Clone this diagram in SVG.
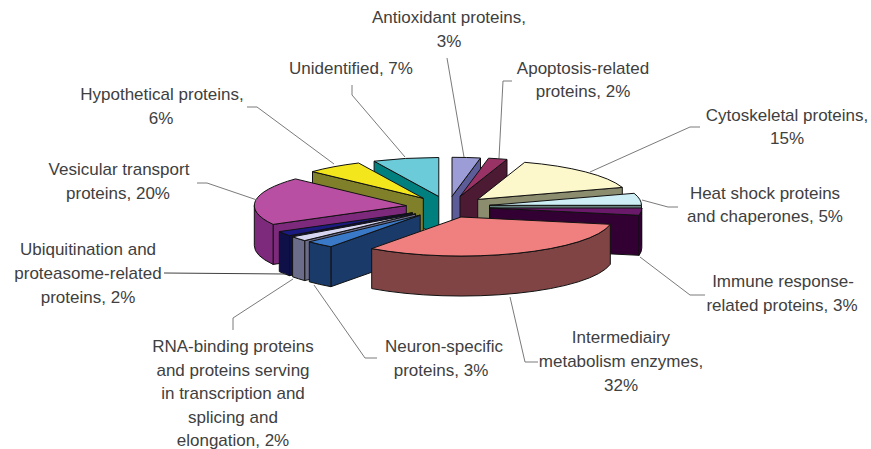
<svg xmlns="http://www.w3.org/2000/svg" width="871" height="449" viewBox="0 0 871 449">
<style>
  .f { stroke: #111; stroke-width: 1; stroke-linejoin: round; }
  .lbl { font-family: "Liberation Sans", Arial, sans-serif; font-size: 17px; fill: #404040; text-anchor: middle; }
  .ld { fill: none; stroke: #7a7a7a; stroke-width: 1; }
</style>
<rect width="871" height="449" fill="#ffffff"/>

<g id="antioxidant">
  <polygon class="f" fill="#5c5c99" points="452,196.3 480.5,158 480.5,198 452,236.3"/>
  <path class="f" fill="#9c9cd6" d="M452,196.3 L452,157.3 A152,39 0 0,1 480.5,158 Z"/>
  <text class="lbl" x="449" y="23">Antioxidant proteins,</text>
  <text class="lbl" x="449" y="47">3%</text>
</g>
<g id="unidentified">
  <polygon class="f" fill="#007f7f" points="438.8,196.5 374.1,161.2 374.1,201.2 438.8,236.5"/>
  <path class="f" fill="#6ccbd8" d="M438.8,196.5 L374.1,161.2 A152,39 0 0,1 438.8,157.5 Z"/>
  <text class="lbl" x="351" y="74">Unidentified, 7%</text>
</g>
<g id="apoptosis">
  <polygon class="f" fill="#4c1a33" points="460,196.5 507,159.4 507,199.4 460,236.5"/>
  <path class="f" fill="#993366" d="M460,196.5 L488.5,158.2 A152,39 0 0,1 507,159.4 Z"/>
  <text class="lbl" x="583" y="74">Apoptosis-related</text>
  <text class="lbl" x="583" y="97">proteins, 2%</text>
</g>
<g id="hypothetical">
  <polygon class="f" fill="#80802a" points="423.3,198.3 312.5,171.6 312.5,211.6 423.3,238.3"/>
  <path class="f" fill="#f4e61c" d="M423.3,198.3 L312.5,171.6 A152,39 0 0,1 358.6,163 Z"/>
  <text class="lbl" x="162" y="100">Hypothetical proteins,</text>
  <text class="lbl" x="161" y="124">6%</text>
</g>
<g id="cytoskeletal">
  <polygon class="f" fill="#8c8c6e" points="477.7,199.4 622.3,187.4 622.3,227.4 477.7,239.4"/>
  <path class="f" fill="#fcf8cc" d="M477.7,199.4 L524.7,162.3 A152,39 0 0,1 622.3,187.4 Z"/>
  <text class="lbl" x="787" y="121">Cytoskeletal proteins,</text>
  <text class="lbl" x="787" y="144">15%</text>
</g>
<g id="heat-shock">
  <polygon class="f" fill="#668080" points="489.5,205.3 641.5,205.3 641.5,245.3 489.5,245.3"/>
  <path class="f" fill="#cceef4" d="M489.5,205.3 L634.1,193.3 A152,39 0 0,1 641.5,205.3 Z"/>
  <text class="lbl" x="765" y="199">Heat shock proteins</text>
  <text class="lbl" x="765" y="222">and chaperones, 5%</text>
</g>
<g id="vesicular">
  <polygon class="f" fill="#7d2a7d" points="406.3,205.6 273.1,224.4 273.1,264.4 406.3,245.6"/>
  <path class="f" fill="#7d2a7d" d="M273.1,224.4 A152,39 0 0,1 254.3,205.6 L254.3,245.6 A152,39 0 0,0 273.1,264.4 Z"/>
  <path class="f" fill="#b94fa2" d="M406.3,205.6 L273.1,224.4 A152,39 0 0,1 295.5,178.9 Z"/>
  <text class="lbl" x="119" y="175">Vesicular transport</text>
  <text class="lbl" x="118" y="199">proteins, 20%</text>
</g>
<g id="immune">
  <polygon class="f" fill="#330033" points="489.8,208 639.1,215.3 639.1,255.3 489.8,248"/>
  <path class="f" fill="#330033" d="M641.8,208 A152,39 0 0,1 639.1,215.3 L639.1,255.3 A152,39 0 0,0 641.8,248 Z"/>
  <path class="f" fill="#6b1a6b" d="M489.8,208 L641.8,208 A152,39 0 0,1 639.1,215.3 Z"/>
  <text class="lbl" x="783" y="287">Immune response-</text>
  <text class="lbl" x="782" y="311">related proteins, 3%</text>
</g>
<g id="ubiquitination">
  <polygon class="f" fill="#101048" points="412.5,212.8 289.5,235.7 289.5,275.7 412.5,252.8"/>
  <path class="f" fill="#101048" d="M289.5,235.7 A152,39 0 0,1 279.3,231.6 L279.3,271.6 A152,39 0 0,0 289.5,275.7 Z"/>
  <path class="f" fill="#1a1a80" d="M412.5,212.8 L289.5,235.7 A152,39 0 0,1 279.3,231.6 Z"/>
  <text class="lbl" x="88" y="255">Ubiquitination and</text>
  <text class="lbl" x="88" y="279">proteasome-related</text>
  <text class="lbl" x="88" y="303">proteins, 2%</text>
</g>
<g id="rna-binding">
  <polygon class="f" fill="#6b6b8a" points="415.6,213.9 304.7,240.6 304.7,280.6 415.6,253.9"/>
  <path class="f" fill="#6b6b8a" d="M304.7,240.6 A152,39 0 0,1 292.6,236.8 L292.6,276.8 A152,39 0 0,0 304.7,280.6 Z"/>
  <path class="f" fill="#d6d6f2" d="M415.6,213.9 L304.7,240.6 A152,39 0 0,1 292.6,236.8 Z"/>
  <text class="lbl" x="233" y="352">RNA-binding proteins</text>
  <text class="lbl" x="233" y="375.5">and proteins serving</text>
  <text class="lbl" x="233" y="399">in transcription and</text>
  <text class="lbl" x="233" y="422.5">splicing and</text>
  <text class="lbl" x="233" y="446">elongation, 2%</text>
</g>
<g id="neuron-specific">
  <polygon class="f" fill="#1a3a6a" points="420.2,215.1 330.9,246.7 330.9,286.7 420.2,255.1"/>
  <path class="f" fill="#1a3a6a" d="M330.9,246.7 A152,39 0 0,1 309.3,241.8 L309.3,281.8 A152,39 0 0,0 330.9,286.7 Z"/>
  <path class="f" fill="#3a78c8" d="M420.2,215.1 L330.9,246.7 A152,39 0 0,1 309.3,241.8 Z"/>
  <text class="lbl" x="444" y="352">Neuron-specific</text>
  <text class="lbl" x="441" y="376">proteins, 3%</text>
</g>
<g id="intermediary">
  <path class="f" fill="#804444" d="M610.3,224.3 A152,39 0 0,1 371.7,248.6 L371.7,288.6 A152,39 0 0,0 610.3,264.3 Z"/>
  <path class="f" fill="#f08080" d="M461,217 L610.3,224.3 A152,39 0 0,1 371.7,248.6 Z"/>
  <text class="lbl" x="621" y="343">Intermediairy</text>
  <text class="lbl" x="621" y="367">metabolism enzymes,</text>
  <text class="lbl" x="621" y="391">32%</text>
</g>

<g id="connectors">
  <polyline class="ld" points="447,58 464,157"/>
  <polyline class="ld" points="512,81 503,81 499,158"/>
  <polyline class="ld" points="700,127 690,127 590,172"/>
  <polyline class="ld" points="678,207 668,207 642,200"/>
  <polyline class="ld" points="705,295 690,295 640,257"/>
  <polyline class="ld" points="538,362 525,362 510,297"/>
  <polyline class="ld" points="377,358 365,358 314,285"/>
  <polyline class="ld" points="233,330 233,318 293,279"/>
  <polyline class="ld" points="164,273 286,274" style="stroke:#404040"/>
  <polyline class="ld" points="197,183 207,183 257,200"/>
  <polyline class="ld" points="247,107 257,107 334,164"/>
  <polyline class="ld" points="352,85 352,95 405,157"/>
</g>
</svg>
